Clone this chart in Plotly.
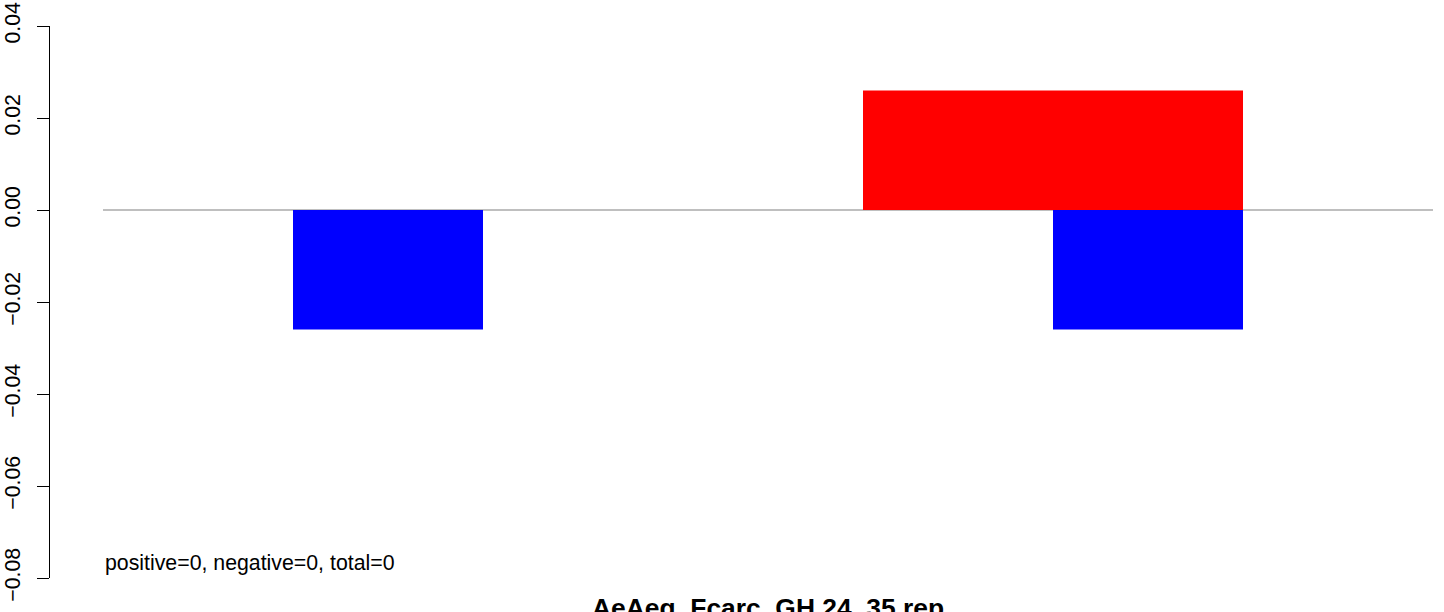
import plotly.graph_objects as go

# Data
title = "AeAeg_Fcarc_GH.24_35.rep"
stats_text = "positive=0, negative=0, total=0"
pos_start = [4]
pos_end = [6]
pos_value = [0.026]
neg_start = [1, 5]
neg_end = [2, 6]
neg_value = [-0.026, -0.026]
baseline_range = [0, 7]
y_ticks = [-0.08, -0.06, -0.04, -0.02, 0.00, 0.02, 0.04]
y_tick_labels = ["\u22120.08", "\u22120.06", "\u22120.04", "\u22120.02", "0.00", "0.02", "0.04"]

FONT = "Liberation Sans, Arial, sans-serif"

fig = go.Figure()
fig.add_trace(go.Bar(
    x=[(s + e) / 2 for s, e in zip(pos_start, pos_end)],
    y=pos_value,
    width=[e - s for s, e in zip(pos_start, pos_end)],
    marker=dict(color="#FF0000", line=dict(width=0)),
    showlegend=False, hoverinfo="skip",
))
fig.add_trace(go.Bar(
    x=[(s + e) / 2 for s, e in zip(neg_start, neg_end)],
    y=neg_value,
    width=[e - s for s, e in zip(neg_start, neg_end)],
    marker=dict(color="#0000FF", line=dict(width=0)),
    showlegend=False, hoverinfo="skip",
))
fig.add_shape(type="line", xref="x", yref="y",
              x0=baseline_range[0], x1=baseline_range[1], y0=0, y1=0,
              line=dict(color="#808080", width=1.2), layer="below")

fig.add_annotation(x=baseline_range[0], y=-0.0767, xref="x", yref="y",
                   text=stats_text, showarrow=False, xanchor="left", yanchor="middle",
                   font=dict(family=FONT, size=21.3, color="black"))
fig.add_annotation(x=(baseline_range[0] + baseline_range[1]) / 2, y=-0.0236, xref="x", yref="paper",
                   text="<b>" + title + "</b>", showarrow=False, xanchor="center", yanchor="top",
                   font=dict(family=FONT, size=26.4, color="black"))

fig.update_layout(
    width=1444, height=612,
    margin=dict(l=50, r=0, t=26, b=34),
    paper_bgcolor="white", plot_bgcolor="white",
    barmode="overlay",
    xaxis=dict(range=[-53 / 190, -53 / 190 + 1394 / 190], visible=False, showgrid=False,
               zeroline=False, automargin=False),
    yaxis=dict(range=[-0.08, 0.04], tickvals=y_ticks, ticktext=y_tick_labels,
               showline=True, linecolor="black", linewidth=1,
               ticks="outside", ticklen=12, tickcolor="black", tickwidth=1,
               tickangle=-90, showgrid=False, zeroline=False, automargin=False,
               ticklabelstandoff=8,
               tickfont=dict(family=FONT, size=21.3, color="black")),
)
fig.write_html("out.html", config={"displayModeBar": False},
               post_script="document.body.style.margin='0';")
